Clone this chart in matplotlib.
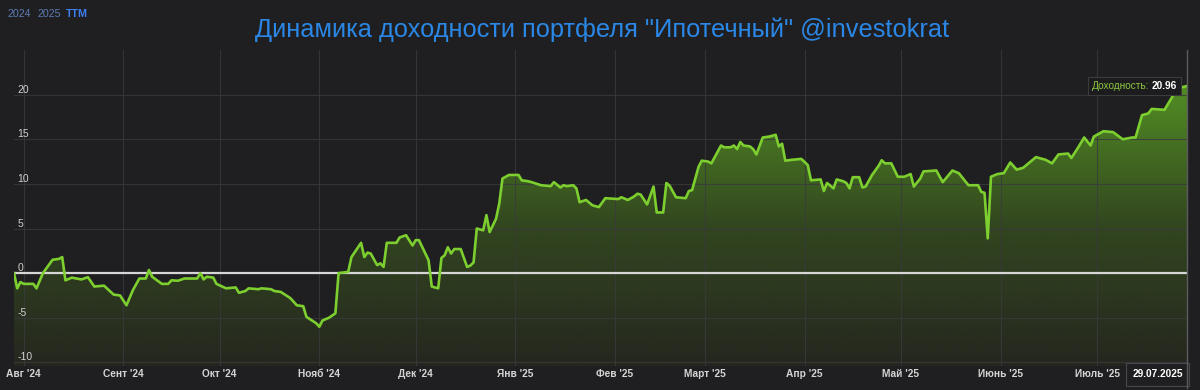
import matplotlib
matplotlib.use("Agg")
import matplotlib.pyplot as plt
import matplotlib.dates as mdates
import numpy as np
import pandas as pd
from matplotlib.colors import LinearSegmentedColormap
from matplotlib.offsetbox import TextArea, HPacker, AnnotationBbox

plt.rcParams["axes.unicode_minus"] = False
plt.rcParams["font.family"] = ["Liberation Sans", "DejaVu Sans"]

BG = "#1f1f21"
GRID = "#3a3a3d"
LINE = "#7dcf2f"

TITLE = 'Динамика доходности портфеля "Ипотечный" @investokrat'

dates = [
    "2024-07-29", "2024-07-30", "2024-07-31", "2024-08-01", "2024-08-04", "2024-08-05", "2024-08-07",
    "2024-08-10", "2024-08-12", "2024-08-13", "2024-08-14", "2024-08-16", "2024-08-19", "2024-08-21",
    "2024-08-23", "2024-08-26", "2024-08-29", "2024-08-31", "2024-09-02", "2024-09-04", "2024-09-06",
    "2024-09-08", "2024-09-09", "2024-09-10", "2024-09-13", "2024-09-15", "2024-09-16", "2024-09-18",
    "2024-09-20", "2024-09-24", "2024-09-25", "2024-09-26", "2024-09-27", "2024-09-29", "2024-09-30",
    "2024-10-03", "2024-10-06", "2024-10-07", "2024-10-09", "2024-10-10", "2024-10-13", "2024-10-14",
    "2024-10-17", "2024-10-18", "2024-10-20", "2024-10-23", "2024-10-25", "2024-10-27", "2024-10-28",
    "2024-10-31", "2024-11-01", "2024-11-02", "2024-11-04", "2024-11-06", "2024-11-07", "2024-11-10",
    "2024-11-11", "2024-11-14", "2024-11-15", "2024-11-16", "2024-11-17", "2024-11-19", "2024-11-20",
    "2024-11-21", "2024-11-22", "2024-11-25", "2024-11-26", "2024-11-28", "2024-11-30", "2024-12-01",
    "2024-12-02", "2024-12-04", "2024-12-05", "2024-12-06", "2024-12-08", "2024-12-09", "2024-12-10",
    "2024-12-11", "2024-12-12", "2024-12-13", "2024-12-15", "2024-12-17", "2024-12-18", "2024-12-19",
    "2024-12-20", "2024-12-22", "2024-12-23", "2024-12-24", "2024-12-26", "2024-12-27", "2024-12-28",
    "2024-12-30", "2025-01-02", "2025-01-03", "2025-01-05", "2025-01-06", "2025-01-09", "2025-01-12",
    "2025-01-13", "2025-01-15", "2025-01-16", "2025-01-17", "2025-01-19", "2025-01-20", "2025-01-21",
    "2025-01-23", "2025-01-25", "2025-01-27", "2025-01-29", "2025-02-02", "2025-02-03", "2025-02-05",
    "2025-02-07", "2025-02-08", "2025-02-09", "2025-02-11", "2025-02-13", "2025-02-14", "2025-02-16",
    "2025-02-17", "2025-02-18", "2025-02-20", "2025-02-23", "2025-02-24", "2025-02-25", "2025-02-27",
    "2025-02-28", "2025-03-02", "2025-03-03", "2025-03-06", "2025-03-07", "2025-03-09", "2025-03-10",
    "2025-03-11", "2025-03-12", "2025-03-13", "2025-03-15", "2025-03-16", "2025-03-17", "2025-03-19",
    "2025-03-21", "2025-03-23", "2025-03-24", "2025-03-25", "2025-03-26", "2025-03-28", "2025-03-31",
    "2025-04-02", "2025-04-03", "2025-04-06", "2025-04-07", "2025-04-08", "2025-04-10", "2025-04-11",
    "2025-04-13", "2025-04-14", "2025-04-15", "2025-04-16", "2025-04-18", "2025-04-19", "2025-04-20",
    "2025-04-22", "2025-04-24", "2025-04-25", "2025-04-26", "2025-04-28", "2025-04-30", "2025-05-02",
    "2025-05-04", "2025-05-05", "2025-05-07", "2025-05-08", "2025-05-12", "2025-05-14", "2025-05-17",
    "2025-05-19", "2025-05-22", "2025-05-25", "2025-05-26", "2025-05-27", "2025-05-28", "2025-05-29",
    "2025-05-31", "2025-06-02", "2025-06-04", "2025-06-06", "2025-06-08", "2025-06-10", "2025-06-12",
    "2025-06-15", "2025-06-17", "2025-06-19", "2025-06-22", "2025-06-23", "2025-06-25", "2025-06-27",
    "2025-06-29", "2025-06-30", "2025-07-03", "2025-07-06", "2025-07-09", "2025-07-12", "2025-07-13",
    "2025-07-15", "2025-07-17", "2025-07-18", "2025-07-22", "2025-07-25", "2025-07-26", "2025-07-27",
    "2025-07-29",
]
values = [
    0.0, -1.7, -1.0, -1.2, -1.2, -1.7, 0.0,
    1.5, 1.6, 1.8, -0.8, -0.5, -0.7, -0.45,
    -1.5, -1.4, -2.4, -2.5, -3.6, -1.9, -0.6,
    -0.6, 0.35, -0.4, -1.2, -1.2, -0.8, -0.85,
    -0.6, -0.6, 0.0, -0.7, -0.4, -0.5, -1.2,
    -1.7, -1.6, -2.2, -2.0, -1.7, -1.8, -1.7,
    -1.8, -2.0, -2.1, -2.8, -3.6, -3.7, -4.9,
    -5.6, -6.0, -5.3, -5.0, -4.5, 0.0, 0.15,
    1.8, 3.4, 1.8, 2.3, 2.2, 0.9, 1.1,
    0.7, 3.4, 3.4, 4.0, 4.25, 3.1, 3.7,
    3.7, 2.2, 1.45, -1.5, -1.7, 1.7, 2.0,
    2.9, 2.2, 2.7, 2.7, 0.7, 0.85, 1.2,
    5.0, 4.8, 6.5, 4.6, 6.1, 7.8, 10.6,
    11.0, 11.0, 10.4, 10.3, 10.2, 9.85, 9.75,
    10.2, 9.6, 9.85, 9.75, 9.85, 9.5, 7.95,
    8.2, 7.6, 7.4, 8.4, 8.3, 8.5, 8.2,
    8.6, 8.9, 8.8, 7.7, 9.7, 6.8, 6.8,
    10.1, 9.8, 8.5, 8.4, 9.2, 9.3, 11.9,
    12.6, 12.5, 12.3, 14.3, 14.1, 14.1, 14.3,
    13.9, 14.7, 14.3, 14.2, 13.9, 13.3, 15.2,
    15.3, 15.5, 14.2, 14.5, 12.6, 12.7, 12.8,
    12.1, 10.4, 10.5, 9.2, 10.1, 9.5, 10.5,
    10.3, 10.1, 9.5, 10.75, 10.75, 9.6, 9.7,
    11.0, 12.0, 12.65, 12.3, 12.3, 10.8, 10.8,
    11.1, 9.7, 10.6, 11.4, 11.5, 10.2, 11.5,
    11.2, 9.85, 9.85, 9.1, 9.0, 3.9, 10.8,
    11.1, 11.2, 12.4, 11.6, 11.8, 12.4, 13.0,
    12.7, 12.3, 13.3, 13.4, 12.9, 14.0, 15.2,
    14.3, 15.3, 15.9, 15.8, 15.0, 15.2, 15.2,
    17.7, 17.9, 18.4, 18.3, 20.1, 20.3, 20.8,
    20.96,
]

month_ticks = [
    "2024-08-01", "2024-09-01", "2024-10-01", "2024-11-01", "2024-12-01", "2025-01-01",
    "2025-02-01", "2025-03-01", "2025-04-01", "2025-05-01", "2025-06-01", "2025-07-01",
]
month_labels = [
    "Авг '24", "Сент '24", "Окт '24", "Нояб '24", "Дек '24", "Янв '25",
    "Фев '25", "Март '25", "Апр '25", "Май '25", "Июнь '25", "Июль '25",
]
y_ticks = [-10, -5, 0, 5, 10, 15, 20]
last_label = "29.07.2025"

x = mdates.date2num(pd.to_datetime(dates))
y = np.array(values)
y_lo, y_hi = -10.4, 25

fig = plt.figure(figsize=(12, 3.9), dpi=100, facecolor=BG)
ax = fig.add_axes([14 / 1200, 1 - 366 / 390, (1187 - 14) / 1200, 316 / 390])
ax.set_facecolor(BG)

# gradient fill under the line
grad = np.linspace(1, 0, 256).reshape(-1, 1)
cmap = LinearSegmentedColormap.from_list("g", ["#25271f", "#32461f", "#528d24"])
img = ax.imshow(grad, extent=[x[0], x[-1], y_lo, y.max()], aspect="auto",
                cmap=cmap, origin="upper", zorder=1, interpolation="bilinear")
poly = ax.fill_between(x, y, y_lo, color="none", lw=0)
img.set_clip_path(poly.get_paths()[0], transform=ax.transData)

ax.axhline(0, color="#d6d6d6", lw=1.6, zorder=2.8)
ax.plot(x, y, color=LINE, lw=1.9, zorder=3, solid_joinstyle="round")

ax.set_xlim(x[0], x[-1])
ax.set_ylim(y_lo, y_hi)

ax.set_xticks(mdates.date2num(pd.to_datetime(month_ticks)))
ax.set_xticklabels(month_labels)
ax.set_yticks(y_ticks)
ax.set_axisbelow(False)
ax.grid(color=GRID, lw=0.8, alpha=0.8, zorder=2)
for s in ax.spines.values():
    s.set_visible(False)

ax.tick_params(axis="x", length=0, pad=2.5, labelsize=7.3, labelcolor="#d4d4d4")
ax.tick_params(axis="y", length=0, pad=-2.5, labelsize=7.5, labelcolor="#cfcfcf")
for t in ax.get_xticklabels():
    t.set_fontweight("bold")
for t in ax.get_yticklabels():
    t.set_ha("left")
    t.set_va("bottom")

# crosshair at the last point
ax.axvline(x[-1], ymin=-0.07, ymax=1, color="#5c5c5e", lw=1, clip_on=False, zorder=4)

ax.annotate(last_label, xy=(x[-1], 0), xycoords=("data", "axes fraction"),
            xytext=(-3, -2.5), textcoords="offset points", ha="right", va="top",
            fontsize=7.3, fontweight="bold", color="white",
            bbox=dict(boxstyle="square,pad=0.6", fc=BG, ec="#48484a", lw=0.8),
            annotation_clip=False)

tip = HPacker(children=[
    TextArea("Доходность:", textprops=dict(color="#8cc63f", fontsize=7.3)),
    TextArea("20.96", textprops=dict(color="white", fontsize=7.3, fontweight="bold")),
], sep=2, pad=0)
ab = AnnotationBbox(tip, (x[-1], y[-1]), xybox=(-7, 0), boxcoords="offset points",
                    box_alignment=(1, 0.5), frameon=True, pad=0.6,
                    bboxprops=dict(boxstyle="square", fc="#1c1c1e", ec="#3c3c3e", lw=0.8),
                    annotation_clip=False, zorder=5)
ax.add_artist(ab)

fig.text(0.502, 1 - 30 / 390, TITLE, ha="center", va="center",
         color="#2b87e6", fontsize=18.3)

fig.text(8 / 1200, 1 - 14 / 390, "2024", color="#5b7bb5", fontsize=7.7, va="center")
fig.text(37 / 1200, 1 - 14 / 390, "2025", color="#5b7bb5", fontsize=7.7, va="center")
fig.text(66 / 1200, 1 - 14 / 390, "TTM", color="#3d7ff0", fontsize=7.7, va="center",
         fontweight="bold")

fig.savefig("out.png", dpi=100, facecolor=BG)
